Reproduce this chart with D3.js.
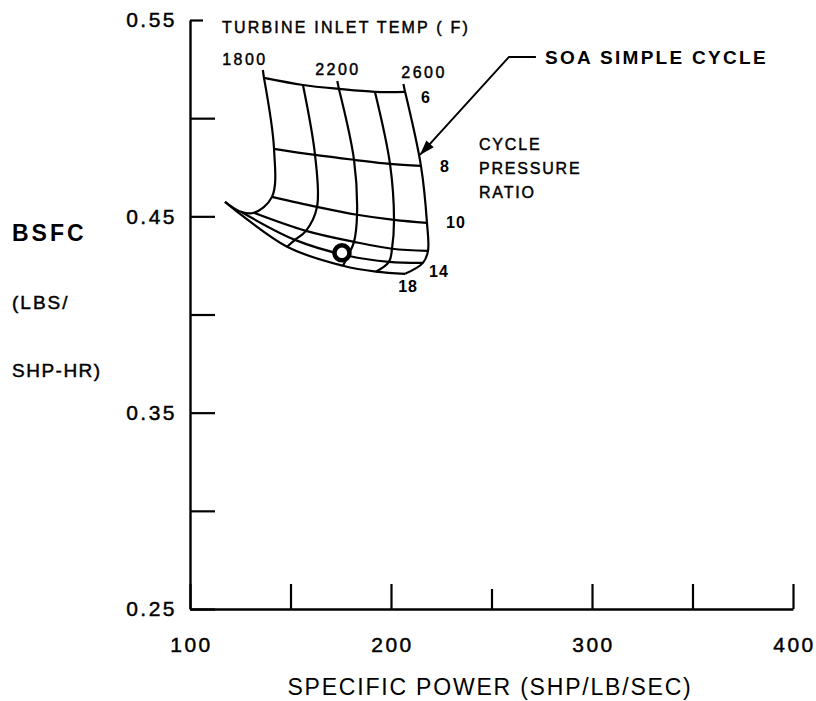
<!DOCTYPE html>
<html>
<head>
<meta charset="utf-8">
<script src="https://cdn.jsdelivr.net/npm/d3@7"></script>
<style>
  body { margin: 0; background: #fff; }
  text { font-family: "Liberation Sans", Arial, sans-serif; fill: #000; }
  .thick { stroke: #000; stroke-width: 0.45px; }
</style>
</head>
<body>
<div id="chart"></div>
<script>
// Chart data

// grid: rows = cycle pressure ratio, columns = turbine inlet temp
var temps = [1800, 2000, 2200, 2400, 2600];
var ratios = [6, 8, 10, 12, 14, 18];

var power = [
    [136.8, 156.2, 174.1, 192.0, 207.0],   // 6
    [141.8, 162.2, 181.6, 199.5, 214.9],   // 8
    [140.8, 163.2, 183.1, 201.5, 217.9],   // 10
    [131.8, 157.7, 181.6, 200.5, 218.4],   // 12
    [125.4, 152.2, 178.6, 199.0, 215.9],   // 14
    [117.4, 148.3, 176.1, 192.5, 207.0]    // 18
];
var bsfc = [
    [0.5205, 0.5169, 0.5149, 0.5134, 0.5134],
    [0.4844, 0.4813, 0.4788, 0.4767, 0.4757],
    [0.4599, 0.4548, 0.4508, 0.4482, 0.4467],
    [0.4518, 0.4426, 0.4370, 0.4335, 0.4324],
    [0.4523, 0.4380, 0.4299, 0.4268, 0.4263],
    [0.4574, 0.4345, 0.4248, 0.4218, 0.4207]
];

var tempLabels = [1800, 2200, 2600];
var ratioLabels = [6, 8, 10, 14, 18];

// SOA simple cycle design point
var soaPoint = {power: 175.6, bsfc: 0.4314};

var powerTicks = [100, 150, 200, 250, 300, 350, 400];
var powerLabels = [100, 200, 300, 400];
var bsfcTicks = [0.25, 0.30, 0.35, 0.40, 0.45, 0.50, 0.55];
var bsfcLabels = [0.25, 0.35, 0.45, 0.55];

// SVG wrapper
var svgWidth = 816;
var svgHeight = 701;

var margin = {top: 20, right: 23, bottom: 92, left: 190};
var width = svgWidth - margin.left - margin.right;
var height = svgHeight - margin.top - margin.bottom;

var svg = d3.select("#chart")
    .append("svg")
    .attr("width", svgWidth)
    .attr("height", svgHeight);

var chartGroup = svg.append("g")
    .attr("transform", `translate(${margin.left}, ${margin.top})`);

// Scales
var xScale = d3.scaleLinear().domain([100, 400]).range([0, width]);
var yScale = d3.scaleLinear().domain([0.25, 0.55]).range([height, 0]);

// Axes (ticks point inward)
var leftAxis = d3.axisLeft(yScale)
    .tickValues(bsfcTicks)
    .tickSize(-25)
    .tickSizeOuter(0)
    .tickPadding(13)
    .tickFormat(d => bsfcLabels.some(v => Math.abs(v - d) < 1e-9) ? d.toFixed(2) : "");

var bottomAxis = d3.axisBottom(xScale)
    .tickValues(powerTicks)
    .tickSize(-25)
    .tickSizeOuter(0)
    .tickPadding(28)
    .tickFormat(d => powerLabels.includes(d) ? d : "");

var yAxisG = chartGroup.append("g").call(leftAxis);
var xAxisG = chartGroup.append("g")
    .attr("transform", `translate(0, ${height})`)
    .call(bottomAxis);

[yAxisG, xAxisG].forEach(function(g) {
    g.select(".domain").attr("stroke", "#000").attr("stroke-width", 2.4);
    g.selectAll(".tick line").attr("stroke", "#000").attr("stroke-width", 2.2);
    g.selectAll(".tick text")
        .attr("class", "thick")
        .style("font-size", "21px")
        .style("letter-spacing", "2.5px")
        .attr("fill", "#000");
});
// short bracket tick at the top of the y axis
yAxisG.selectAll(".tick").filter(d => d === 0.55).select("line").attr("x2", 13);
xAxisG.selectAll(".tick").filter(d => d === 250).select("line").attr("y2", -20);
xAxisG.selectAll(".tick text").attr("dx", "1px");

// Carpet grid
var line = d3.line()
    .x(d => xScale(d[0]))
    .y(d => yScale(d[1]))
    .curve(d3.curveCatmullRom.alpha(0.5));

// constant pressure ratio lines
ratios.forEach(function(r, i) {
    var pts = temps.map((t, j) => [power[i][j], bsfc[i][j]]);
    chartGroup.append("path")
        .attr("d", line(pts))
        .attr("fill", "none")
        .attr("stroke", "#000")
        .attr("stroke-width", 2.2);
});

// constant temperature lines
temps.forEach(function(t, j) {
    var pts = ratios.map((r, i) => [power[i][j], bsfc[i][j]]);
    chartGroup.append("path")
        .attr("d", line(pts))
        .attr("fill", "none")
        .attr("stroke", "#000")
        .attr("stroke-width", 2.2);

    // labelled temperature lines stick up a little past the 6 line
    if (tempLabels.includes(t)) {
        var x0 = xScale(power[0][j]), y0 = yScale(bsfc[0][j]);
        var x1 = xScale(power[1][j]), y1 = yScale(bsfc[1][j]);
        var len = Math.hypot(x0 - x1, y0 - y1);
        var ext = 8;
        chartGroup.append("line")
            .attr("x1", x0).attr("y1", y0)
            .attr("x2", x0 + (x0 - x1) / len * ext)
            .attr("y2", y0 + (y0 - y1) / len * ext)
            .attr("stroke", "#000")
            .attr("stroke-width", 2.2);
    }
});

// temperature labels
var tempOffsets = {1800: [-19, -18], 2200: [-1, -19], 2600: [19, -19]};
tempLabels.forEach(function(t) {
    var j = temps.indexOf(t);
    chartGroup.append("text")
        .attr("class", "thick")
        .attr("x", xScale(power[0][j]) + tempOffsets[t][0])
        .attr("y", yScale(bsfc[0][j]) + tempOffsets[t][1])
        .attr("text-anchor", "middle")
        .attr("dominant-baseline", "central")
        .style("font-size", "16px")
        .style("letter-spacing", "2.5px")
        .text(t);
});

// pressure ratio labels next to the 2600 line
var ratioOffsets = {6: [21, 6], 8: [24, 1], 10: [29, 0], 14: [16, 9], 18: [3, 13]};
ratioLabels.forEach(function(r) {
    var i = ratios.indexOf(r);
    chartGroup.append("text")
        .attr("x", xScale(power[i][4]) + ratioOffsets[r][0])
        .attr("y", yScale(bsfc[i][4]) + ratioOffsets[r][1])
        .attr("text-anchor", "middle")
        .attr("dominant-baseline", "central")
        .style("font-size", "16px")
        .style("font-weight", "bold")
        .style("letter-spacing", "1px")
        .text(r);
});

// SOA design point
chartGroup.append("circle")
    .attr("cx", xScale(soaPoint.power))
    .attr("cy", yScale(soaPoint.bsfc))
    .attr("r", 7.5)
    .attr("fill", "#fff")
    .attr("stroke", "#000")
    .attr("stroke-width", 4.5);

// "SOA SIMPLE CYCLE" call-out with arrow
var leaderStart = [272.1, 0.5312], leaderBend = [258.7, 0.5312], arrowTip = [214.4, 0.4813];
var bx = xScale(leaderBend[0]), by = yScale(leaderBend[1]);
var tx = xScale(arrowTip[0]), ty = yScale(arrowTip[1]);
chartGroup.append("polyline")
    .attr("points", [[xScale(leaderStart[0]), yScale(leaderStart[1])], [bx, by], [tx, ty]].map(p => p.join(",")).join(" "))
    .attr("fill", "none")
    .attr("stroke", "#000")
    .attr("stroke-width", 2);
var ang = Math.atan2(ty - by, tx - bx);
var headLen = 15, headW = 5;
var hx = tx - Math.cos(ang) * headLen, hy = ty - Math.sin(ang) * headLen;
chartGroup.append("path")
    .attr("d", `M${tx},${ty} L${hx - Math.sin(ang) * headW},${hy + Math.cos(ang) * headW} L${hx + Math.sin(ang) * headW},${hy - Math.cos(ang) * headW} Z`)
    .attr("fill", "#000");

// Annotation texts
svg.append("text")
    .attr("x", 545).attr("y", 64)
    .style("font-size", "19px")
    .style("font-weight", "bold")
    .style("letter-spacing", "2.3px")
    .text("SOA SIMPLE CYCLE");

svg.append("text")
    .attr("class", "thick")
    .attr("x", 222).attr("y", 33)
    .style("font-size", "16px")
    .style("letter-spacing", "2.2px")
    .text("TURBINE INLET TEMP ( F)");

["CYCLE", "PRESSURE", "RATIO"].forEach(function(s, k) {
    svg.append("text")
        .attr("class", "thick")
        .attr("x", 479).attr("y", 150 + k * 24)
        .style("font-size", "16px")
        .style("letter-spacing", "1.8px")
        .text(s);
});

// Axis titles
svg.append("text")
    .attr("x", 12).attr("y", 241)
    .style("font-size", "23px")
    .style("font-weight", "bold")
    .style("letter-spacing", "3px")
    .text("BSFC");
svg.append("text")
    .attr("class", "thick")
    .attr("x", 12).attr("y", 309)
    .style("font-size", "19px")
    .style("letter-spacing", "2px")
    .text("(LBS/");
svg.append("text")
    .attr("class", "thick")
    .attr("x", 12).attr("y", 377)
    .style("font-size", "19px")
    .style("letter-spacing", "1.5px")
    .text("SHP-HR)");

svg.append("text")
    .attr("x", 490).attr("y", 695)
    .attr("text-anchor", "middle")
    .style("font-size", "23px")
    .style("letter-spacing", "1.8px")
    .text("SPECIFIC POWER (SHP/LB/SEC)");
</script>
</body>
</html>
